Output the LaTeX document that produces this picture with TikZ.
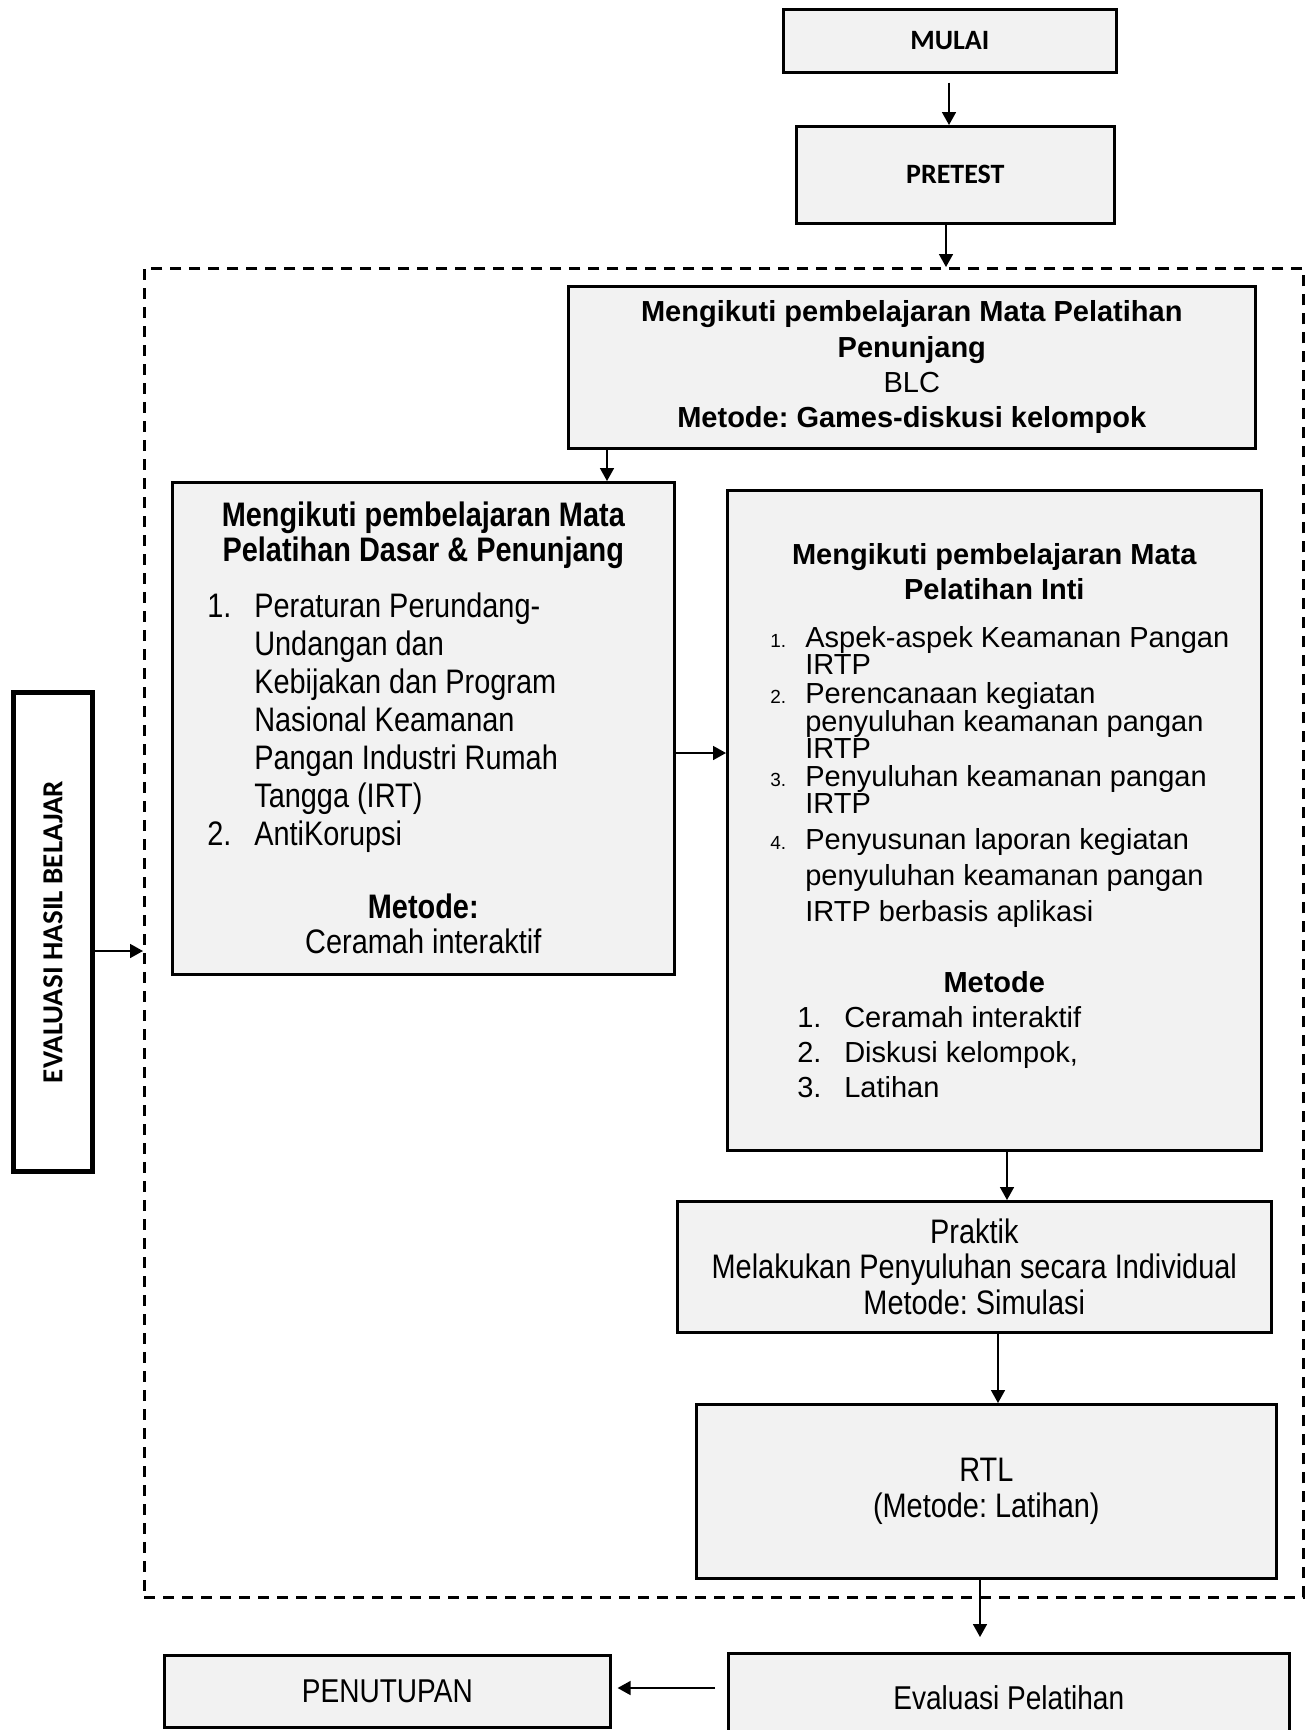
\documentclass[tikz,border=0pt]{standalone}
\usepackage{fontspec}
\usepackage{graphicx}
\setmainfont{Liberation Sans}
\newfontfamily\narrowfont{Liberation Sans}[FakeStretch=0.85]
\newfontfamily\calfont{Carlito}
\usetikzlibrary{arrows.meta}
\definecolor{boxgray}{HTML}{F2F2F2}
\frenchspacing
\begin{document}
\begin{tikzpicture}[x=1pt,y=-1pt,
  box/.style={draw=black, line width=2.6pt, fill=boxgray, inner sep=0pt, anchor=north west},
  cbox/.style={box, align=center},
  arr/.style={line width=1.7pt, -{Triangle[length=13pt,width=14pt]}},
  calt/.style={font=\calfont\bfseries\fontsize{28}{34}\selectfont},
  nart/.style={font=\narrowfont\fontsize{34}{35.3}\selectfont},
  ariat/.style={font=\fontsize{29}{35.3}\selectfont}]
\clip (0,0) rectangle (1305,1730);
\fill[white] (0,0) rectangle (1305,1730);

% dashed frame
\node[draw=black, line width=2.8pt, dash pattern=on 11pt off 8pt, minimum width=1159, minimum height=1329, anchor=north west, inner sep=0pt] (frame) at (143,267) {};

% boxes
\node[cbox, calt, minimum width=333, minimum height=63] (mulai) at (782,8) {MULAI};
\node[cbox, calt, minimum width=318, minimum height=97] (pretest) at (795,125) {PRETEST};

\node[cbox, ariat, minimum width=687, minimum height=162] (blc) at (567,285)
  {{\bfseries Mengikuti pembelajaran Mata Pelatihan}\\{\bfseries Penunjang}\\BLC\\{\bfseries Metode: Games-diskusi kelompok}};

\node[box, minimum width=502, minimum height=492] (dasar) at (171,481) {%
\begin{minipage}{460pt}
\narrowfont\fontsize{34}{35}\selectfont\setlength\parskip{0pt}\setlength\parindent{0pt}%
{\centering\bfseries Mengikuti pembelajaran Mata\\Pelatihan Dasar \& Penunjang\par}
\vspace{18pt}
\fontsize{34}{38}\selectfont
\hangindent=61pt\hangafter=1 \hspace*{14pt}\makebox[47pt][l]{1.}Peraturan Perundang-\\Undangan dan\\Kebijakan dan Program\\Nasional Keamanan\\Pangan Industri Rumah\\Tangga (IRT)\par
\hangindent=61pt\hangafter=1 \hspace*{14pt}\makebox[47pt][l]{2.}AntiKorupsi\par
\fontsize{34}{35}\selectfont
\vspace{38pt}
{\centering{\bfseries Metode:}\\Ceramah interaktif\par}
\end{minipage}};

\node[box, minimum width=534, minimum height=660] (inti) at (726,489) {%
\begin{minipage}{500pt}
\fontsize{29}{35}\selectfont\setlength\parskip{0pt}\setlength\parindent{0pt}%
{\centering\bfseries Mengikuti pembelajaran Mata\\Pelatihan Inti\par}
\fontsize{29}{27}\selectfont
\vspace{21pt}
\hangindent=61pt\hangafter=1 \hspace*{26pt}\makebox[35pt][l]{\fontsize{19}{19}\selectfont 1.}Aspek-aspek Keamanan Pangan\\IRTP\par
\vspace{2pt}
\hangindent=61pt\hangafter=1 \hspace*{26pt}\makebox[35pt][l]{\fontsize{19}{19}\selectfont 2.}Perencanaan kegiatan\\penyuluhan keamanan pangan\\IRTP\par
\vspace{1pt}
\hangindent=61pt\hangafter=1 \hspace*{26pt}\makebox[35pt][l]{\fontsize{19}{19}\selectfont 3.}Penyuluhan keamanan pangan\\IRTP\par
\fontsize{29}{36}\selectfont
\hangindent=61pt\hangafter=1 \hspace*{26pt}\makebox[35pt][l]{\fontsize{19}{19}\selectfont 4.}Penyusunan laporan kegiatan\\penyuluhan keamanan pangan\\IRTP berbasis aplikasi\par
\fontsize{29}{35}\selectfont
\vspace{36pt}
{\centering\bfseries Metode\par}
\hspace*{53pt}\makebox[47pt][l]{1.}Ceramah interaktif\par
\hspace*{53pt}\makebox[47pt][l]{2.}Diskusi kelompok,\par
\hspace*{53pt}\makebox[47pt][l]{3.}Latihan\par
\end{minipage}};

\node[cbox, nart, minimum width=594, minimum height=131] (praktik) at (676,1200)
  {Praktik\\Melakukan Penyuluhan secara Individual\\Metode: Simulasi};
\node[cbox, nart, minimum width=580, minimum height=174] (rtl) at (695,1403)
  {RTL\\(Metode: Latihan)};
\node[cbox, font=\narrowfont\fontsize{33}{35}\selectfont, minimum width=446, minimum height=72] (penutupan) at (163,1654) {PENUTUPAN};
\node[cbox, font=\narrowfont\fontsize{33}{35}\selectfont, minimum width=561, minimum height=88] (evalp) at (727,1652) {Evaluasi Pelatihan};

\node[draw=black, line width=5pt, fill=white, inner sep=0pt, minimum width=79, minimum height=479, anchor=north west] (ehb) at (11,690)
  {\rotatebox{90}{\calfont\bfseries\fontsize{29}{34}\selectfont EVALUASI HASIL BELAJAR}};

% connectors
\coordinate (c1) at (949,0);
\coordinate (c2) at (946,0);
\coordinate (c3) at (607,0);
\coordinate (c4) at (0,753);
\coordinate (c5) at (1007,0);
\coordinate (c6) at (998,0);
\coordinate (c7) at (980,0);
\coordinate (c8) at (0,1688);
\coordinate (c9) at (0,951);

\draw[arr, shorten <=9pt] (mulai.south -| c1) -- (pretest.north -| c1);
\draw[arr] (pretest.south -| c2) -- (frame.north -| c2);
\draw[arr] (blc.south -| c3) -- (dasar.north -| c3);
\draw[arr] (dasar.east |- c4) -- (inti.west |- c4);
\draw[arr] (inti.south -| c5) -- (praktik.north -| c5);
\draw[arr] (praktik.south -| c6) -- (rtl.north -| c6);
\draw[arr, shorten >=15pt] (rtl.south -| c7) -- (evalp.north -| c7);
\draw[arr, shorten <=12pt, shorten >=6pt] (evalp.west |- c8) -- (penutupan.east |- c8);
\draw[arr] (ehb.east |- c9) -- (frame.west |- c9);
\end{tikzpicture}
\end{document}
